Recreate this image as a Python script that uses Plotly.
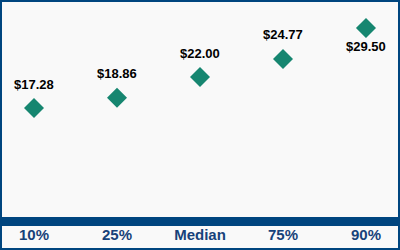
import plotly.graph_objects as go

categories = ["10%", "25%", "Median", "75%", "90%"]
values = [17.28, 18.86, 22.00, 24.77, 29.50]
labels = ["$17.28", "$18.86", "$22.00", "$24.77", "$29.50"]
label_above = [True, True, True, True, False]

W, H = 400, 250
ml, mr, mt, mb = 0, 0, 0, 33
pw, ph = W - ml - mr, H - mt - mb

fig = go.Figure()
fig.add_trace(go.Scatter(
    x=list(range(len(categories))), y=values,
    mode="markers",
    marker=dict(symbol="diamond", size=15.4, color="#168670"),
    cliponaxis=False, hoverinfo="skip",
))

for i, (v, t, above) in enumerate(zip(values, labels, label_above)):
    fig.add_annotation(
        x=i, y=v, text=t, showarrow=False,
        xanchor="center", yanchor="middle",
        yshift=24 if above else -19,
        font=dict(family="Arial, Liberation Sans", size=13, color="#000000", weight="bold"),
    )

fig.update_layout(
    width=W, height=H,
    margin=dict(l=ml, r=mr, t=mt, b=mb),
    paper_bgcolor="#f9f9f9", plot_bgcolor="#f9f9f9",
    showlegend=False,
    xaxis=dict(
        range=[-0.41, 4.41], tickvals=list(range(len(categories))), ticktext=categories,
        showgrid=False, zeroline=False, showline=True, linewidth=9, linecolor="#00457f",
        ticks="", ticklabelstandoff=-4,
        tickfont=dict(family="Arial, Liberation Sans", size=15, color="#17427a", weight="bold"),
        fixedrange=True,
    ),
    yaxis=dict(
        range=[0.64, 33.77], visible=False, showgrid=False, zeroline=False, fixedrange=True,
    ),
    shapes=[dict(
        type="rect", xref="paper", yref="paper",
        x0=1 / pw, x1=1 - 1 / pw, y0=-(mb - 1) / ph, y1=1 - 1 / ph,
        line=dict(color="#00457f", width=2), fillcolor="rgba(0,0,0,0)",
    )],
)

fig.write_html("out.html")
